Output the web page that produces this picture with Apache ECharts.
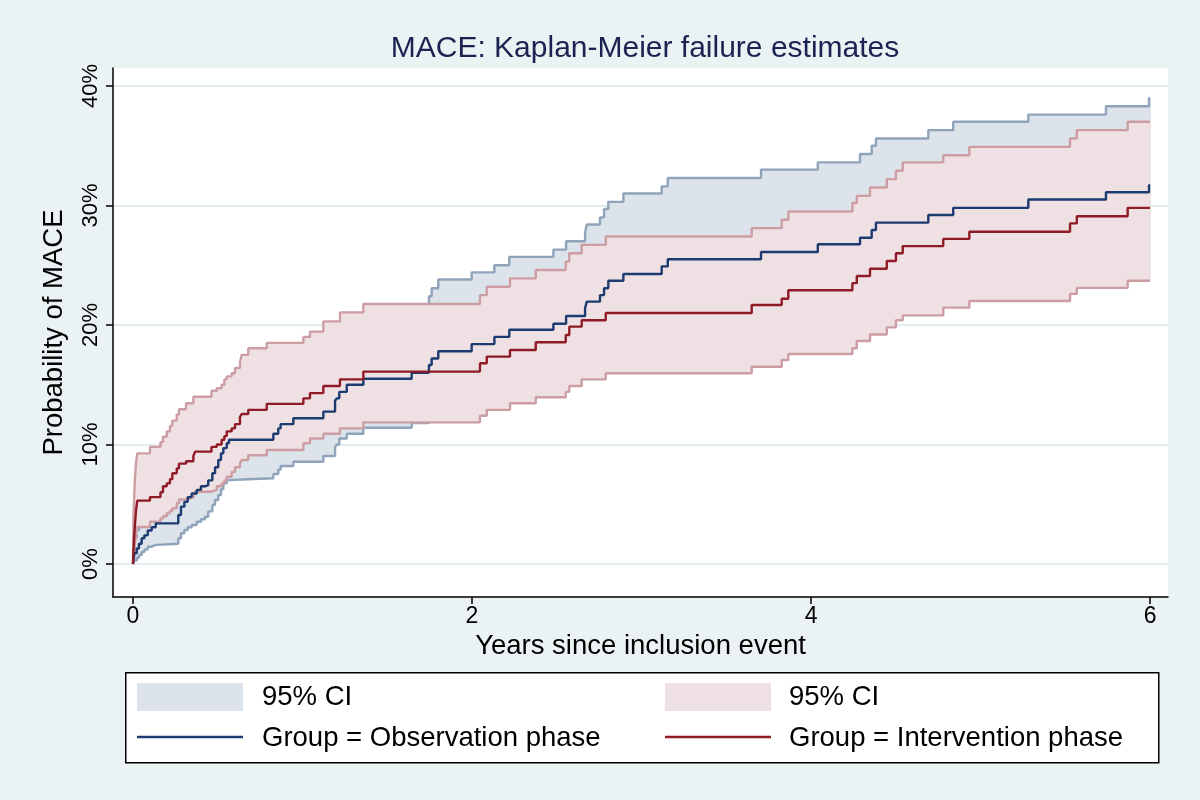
<!DOCTYPE html>
<html>
<head>
<meta charset="utf-8">
<script src="https://cdn.jsdelivr.net/npm/echarts@6/dist/echarts.min.js"></script>
<style>
html,body{margin:0;padding:0;background:#eaf2f3;}
#chart{width:1200px;height:800px;}
</style>
</head>
<body>
<div id="chart"></div>
<script>
// ---- Data (years, % failure) ----
const xTicks = [0, 2, 4, 6];
const yTicks = [0, 10, 20, 30, 40];

// Observation phase
const obsT   = [0,0.008,0.022,0.035,0.051,0.067,0.087,0.110,0.134,0.267,0.283,0.303,0.323,0.346,0.376,0.401,0.425,0.444,0.468,0.484,0.503,0.519,0.533,0.553,0.566,0.828,0.857,0.871,0.946,1.123,1.192,1.202,1.217,1.261,1.359,1.644,1.746,1.762,1.801,1.998,2.132,2.220,2.480,2.555,2.667,2.677,2.755,2.779,2.804,2.893,3.119,3.155,3.705,4.040,4.289,4.358,4.383,4.692,4.839,5.282,5.740,5.994,6.000];
const obsEst = [0,0.9,1.3,1.7,2.15,2.4,2.8,3.07,3.4,4.1,4.8,5.2,5.6,5.9,6.2,6.5,6.6,7.0,7.6,8.1,8.7,9.26,9.7,10.1,10.4,10.9,11.35,11.7,12.2,12.75,13.66,13.86,14.4,15.0,15.5,16.0,16.65,17.2,17.8,18.4,19.0,19.6,20.1,20.75,21.4,21.95,22.5,23.07,23.7,24.27,24.9,25.5,26.1,26.75,27.3,27.95,28.56,29.2,29.8,30.5,31.1,31.7,31.7];
const obsLo  = [0,0.3,0.5,0.75,1.0,1.2,1.45,1.6,1.7,2.15,2.57,2.85,3.07,3.26,3.54,3.74,3.96,4.4,4.94,5.36,5.77,6.25,6.75,7.03,7.17,7.53,7.9,8.2,8.56,9.04,9.8,10.0,10.5,10.9,11.4,11.8,12.3,12.8,13.3,13.8,14.3,14.8,15.3,15.8,16.4,16.9,17.4,17.9,18.4,18.9,19.4,19.9,20.4,21.0,21.5,22.0,22.6,23.1,23.6,24.2,24.7,25.2,25.2];
const obsHi  = [0,2.2,2.8,3.3,3.9,4.3,4.8,5.1,5.5,6.4,7.2,7.7,8.2,8.6,9.0,9.4,9.6,10.1,10.8,11.4,12.0,12.6,13.1,13.5,13.9,14.4,14.9,15.3,15.8,16.4,17.4,17.6,18.2,18.9,19.5,20.6,22.4,23.07,23.8,24.4,25.0,25.7,26.3,27.0,27.7,28.4,29.0,29.7,30.3,31.0,31.6,32.3,33.0,33.6,34.3,35.0,35.6,36.3,37.0,37.6,38.3,39.0,39.0];

// Intervention phase
const intT   = [0,0.003,0.008,0.012,0.018,0.025,0.100,0.162,0.177,0.199,0.218,0.232,0.258,0.271,0.313,0.356,0.366,0.463,0.494,0.523,0.539,0.553,0.582,0.602,0.631,0.641,0.680,0.789,1.005,1.044,1.123,1.221,1.359,2.047,2.087,2.224,2.376,2.553,2.574,2.647,2.789,3.650,3.827,3.866,4.244,4.270,4.348,4.447,4.501,4.541,4.780,4.934,5.528,5.568,5.868,6.000];
const intEst = [0,1.2,2.5,3.4,4.5,5.3,5.6,6.0,6.5,6.75,7.1,7.6,8.0,8.4,8.6,9.0,9.4,9.8,10.0,10.4,10.7,11.1,11.35,11.7,12.3,12.55,12.9,13.4,13.86,14.3,14.9,15.45,16.1,16.8,17.35,17.9,18.55,19.16,19.86,20.4,21.0,21.67,22.2,22.9,23.5,24.1,24.7,25.35,26.0,26.6,27.2,27.8,28.5,29.1,29.8,29.8];
const intLo  = [0,0.2,1.0,1.8,2.5,3.1,3.54,3.8,4.0,4.24,4.45,4.66,5.08,5.4,5.55,5.7,6.05,6.2,6.5,6.75,7.0,7.3,7.7,8.1,8.4,8.7,9.1,9.54,10.1,10.5,10.9,11.35,11.85,12.4,12.9,13.45,13.95,14.4,14.9,15.45,15.96,16.5,17.07,17.57,18.05,18.66,19.2,19.8,20.4,20.8,21.45,22.0,22.6,23.1,23.7,23.7];
const intHi  = [0,4.0,6.0,7.3,8.5,9.26,9.8,10.2,10.65,11.1,11.55,12.0,12.5,12.95,13.45,14.0,14.0,14.5,14.7,15.0,15.45,15.7,15.96,16.4,16.85,17.5,18.05,18.5,19.0,19.44,20.3,21.05,21.75,22.5,23.2,23.9,24.6,25.3,26.0,26.7,27.4,28.1,28.8,29.5,30.2,30.8,31.5,32.2,32.9,33.6,34.2,34.9,35.6,36.3,37.0,37.0];

const pairs = (t, v) => t.map((x, i) => [x, v[i]]);
const bandData = (t, lo, hi) => t.slice(0, -1).map((x, i) => [x, t[i + 1], lo[i], hi[i]]);

const C = {
  obsFill: '#dce3ea', obsEdge: '#8fa4ba', obsLine: '#1c3b70',
  intFill: '#efe1e3', intEdge: '#cc9ea4', intLine: '#8e1b25'
};
const FONT = 'Liberation Sans, Arial, sans-serif';
const LFS = 27.5;

function bandSeries(name, data, fill, z) {
  return {
    type: 'custom', name, data, z, silent: true, animation: false,
    encode: { x: [0, 1], y: [2, 3] },
    renderItem: function (params, api) {
      const a = api.coord([api.value(0), api.value(3)]);
      const b = api.coord([api.value(1), api.value(2)]);
      return {
        type: 'rect',
        shape: { x: a[0], y: a[1], width: b[0] - a[0] + 0.8, height: b[1] - a[1] },
        style: { fill: fill, stroke: null }
      };
    }
  };
}
function stepLine(name, data, color, width, z) {
  return {
    type: 'line', name, data, step: 'end', z, showSymbol: false, symbol: 'none',
    silent: true, animation: false,
    lineStyle: { color: color, width: width }
  };
}

const chart = echarts.init(document.getElementById('chart'), null, { renderer: 'canvas' });
chart.setOption({
  backgroundColor: '#eaf2f3',
  animation: false,
  textStyle: { fontFamily: FONT },
  title: {
    text: 'MACE: Kaplan-Meier failure estimates',
    left: 640, top: 29, textAlign: 'center',
    textStyle: { fontFamily: FONT, fontSize: 30, fontWeight: 'normal', color: '#1a2352' }
  },
  grid: { left: 113, right: 32, top: 68, bottom: 203, show: true, backgroundColor: '#ffffff', borderWidth: 0 },
  xAxis: {
    type: 'value', min: -0.118, max: 6.106,
    name: 'Years since inclusion event', nameLocation: 'middle', nameGap: 29,
    nameTextStyle: { fontFamily: FONT, fontSize: LFS, color: '#000' },
    axisLine: { show: true, onZero: false, lineStyle: { color: '#000', width: 1.5 } },
    axisTick: { show: true, length: 7, customValues: xTicks, lineStyle: { color: '#000', width: 1.5 } },
    axisLabel: { customValues: xTicks, fontSize: 23, color: '#000', margin: 8, fontFamily: FONT },
    splitLine: { show: false }
  },
  yAxis: {
    type: 'value', min: -2.76, max: 41.5,
    name: 'Probability of MACE', nameLocation: 'middle', nameGap: 45, nameRotate: 90,
    nameTextStyle: { fontFamily: FONT, fontSize: LFS, color: '#000' },
    axisLine: { show: true, onZero: false, lineStyle: { color: '#000', width: 1.5 } },
    axisTick: { show: true, length: 7, customValues: yTicks, lineStyle: { color: '#000', width: 1.5 } },
    axisLabel: { customValues: yTicks, rotate: 90, fontSize: 22, color: '#000', margin: 11, fontFamily: FONT,
      formatter: v => v + '%' },
    splitLine: { show: true, lineStyle: { color: '#e3ecef', width: 2 } }
  },
  series: [
    bandSeries('obsBand', bandData(obsT, obsLo, obsHi), C.obsFill, 1),
    stepLine('obsLo', pairs(obsT, obsLo), C.obsEdge, 2.4, 2),
    stepLine('obsHi', pairs(obsT, obsHi), C.obsEdge, 2.4, 2),
    bandSeries('intBand', bandData(intT, intLo, intHi), C.intFill, 3),
    stepLine('intLo', pairs(intT, intLo), C.intEdge, 2.4, 4),
    stepLine('intHi', pairs(intT, intHi), C.intEdge, 2.4, 4),
    stepLine('Group = Observation phase', pairs(obsT, obsEst), C.obsLine, 2.4, 5),
    stepLine('Group = Intervention phase', pairs(intT, intEst), C.intLine, 2.4, 6)
  ],
  graphic: [
    { type: 'rect', left: 125, top: 672, shape: { width: 1033, height: 90 },
      style: { fill: '#fff', stroke: '#000', lineWidth: 1.5 }, z: 10 },
    { type: 'rect', left: 137, top: 683, shape: { width: 106, height: 28 }, style: { fill: C.obsFill }, z: 11 },
    { type: 'text', x: 262, y: 697, style: { text: '95% CI', font: LFS + 'px ' + FONT, fill: '#000', verticalAlign: 'middle' }, z: 11 },
    { type: 'rect', left: 665, top: 683, shape: { width: 106, height: 28 }, style: { fill: C.intFill }, z: 11 },
    { type: 'text', x: 789, y: 697, style: { text: '95% CI', font: LFS + 'px ' + FONT, fill: '#000', verticalAlign: 'middle' }, z: 11 },
    { type: 'line', shape: { x1: 137, y1: 737, x2: 243, y2: 737 }, style: { stroke: C.obsLine, lineWidth: 2.4 }, z: 11 },
    { type: 'text', x: 262, y: 738, style: { text: 'Group = Observation phase', font: LFS + 'px ' + FONT, fill: '#000', verticalAlign: 'middle' }, z: 11 },
    { type: 'line', shape: { x1: 665, y1: 737, x2: 771, y2: 737 }, style: { stroke: C.intLine, lineWidth: 2.4 }, z: 11 },
    { type: 'text', x: 789, y: 738, style: { text: 'Group = Intervention phase', font: LFS + 'px ' + FONT, fill: '#000', verticalAlign: 'middle' }, z: 11 }
  ]
});
</script>
</body>
</html>
